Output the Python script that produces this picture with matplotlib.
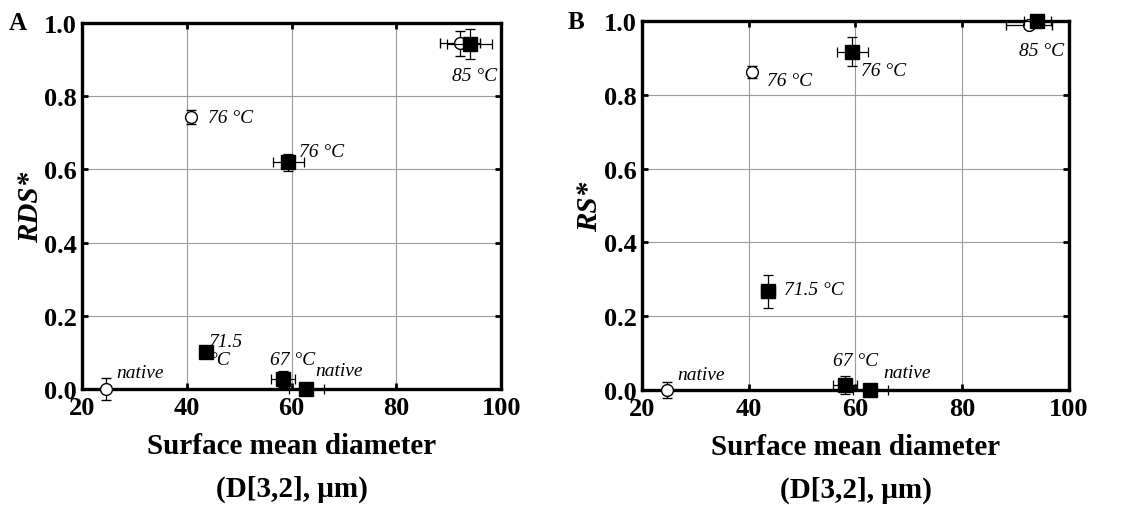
import matplotlib
matplotlib.use("Agg")
import matplotlib.pyplot as plt

plt.rcParams['font.family'] = ['Liberation Serif', 'DejaVu Serif']

# ---------------- data ----------------
# Panel A (RDS*)
a_open_x = [24.5, 40.8, 92.2]
a_open_y = [0.0, 0.743, 0.945]
a_open_xerr = [0.0, 0.0, 3.8]
a_open_yerr = [0.03, 0.018, 0.034]

a_fill_x = [62.8, 58.3, 43.7, 59.4, 94.0]
a_fill_y = [0.0, 0.027, 0.102, 0.62, 0.943]
a_fill_xerr = [3.3, 2.3, 1.2, 2.9, 4.3]
a_fill_yerr = [0.0, 0.022, 0.01, 0.023, 0.04]

# Panel B (RS*)
b_open_x = [24.7, 40.6, 92.5]
b_open_y = [0.0, 0.862, 0.989]
b_open_xerr = [0.0, 0.0, 4.3]
b_open_yerr = [0.022, 0.017, 0.0]

b_fill_x = [62.8, 58.0, 43.6, 59.4, 94.1]
b_fill_y = [0.0, 0.014, 0.268, 0.917, 1.0]
b_fill_xerr = [3.3, 2.2, 1.3, 2.9, 2.5]
b_fill_yerr = [0.0, 0.024, 0.045, 0.04, 0.0]

# annotations: (text, x, y)
a_notes = [("native", 26.6, 0.045), ("76 °C", 44.0, 0.743), ("76 °C", 61.5, 0.65),
           ("85 °C", 90.7, 0.856), ("71.5\n°C", 44.3, 0.105), ("67 °C", 55.9, 0.08),
           ("native", 64.6, 0.05)]
b_notes = [("native", 26.6, 0.043), ("76 °C", 43.4, 0.84), ("76 °C", 61.1, 0.867),
           ("85 °C", 90.7, 0.921), ("71.5 °C", 46.6, 0.272), ("67 °C", 55.7, 0.08),
           ("native", 65.3, 0.048)]

x_ticks = [20, 40, 60, 80, 100]
y_ticks = [0.0, 0.2, 0.4, 0.6, 0.8, 1.0]
x_label = "Surface mean diameter\n(D[3,2], μm)"

fig = plt.figure(figsize=(11.36, 5.06), dpi=100)
axA = fig.add_axes([0.0722, 0.229, 0.369, 0.7236])
axB = fig.add_axes([0.5651, 0.227, 0.3759, 0.7295])


def draw(ax, ox, oy, oxe, oye, fx, fy, fxe, fye, notes, ylab, letter):
    ax.set_xlim(20, 100)
    ax.set_ylim(0, 1.0)
    ax.set_xticks(x_ticks)
    ax.set_yticks(y_ticks)
    ax.set_xticklabels([str(t) for t in x_ticks])
    ax.set_yticklabels([f"{t:.1f}" for t in y_ticks])
    ax.grid(True, color='#9a9a9a', linewidth=0.8)
    ax.set_axisbelow(True)
    for s in ax.spines.values():
        s.set_linewidth(2.4)
        s.set_zorder(3)
    ax.tick_params(direction='in', length=4, width=2, top=True, right=True,
                   labelsize=19, pad=4)
    for lab in ax.get_xticklabels() + ax.get_yticklabels():
        lab.set_fontweight('bold')
    ax.tick_params(axis='x', pad=5)
    ax.errorbar(ox, oy, xerr=oxe, yerr=oye, fmt='o', ms=8.5, mfc='white', mec='black',
                mew=1.0, ecolor='black', elinewidth=0.9, capsize=3.5, capthick=0.9,
                clip_on=False, zorder=5)
    ax.errorbar(fx, fy, xerr=fxe, yerr=fye, fmt='s', ms=9.5, mfc='black', mec='black',
                ecolor='black', elinewidth=0.9, capsize=3.5, capthick=0.9,
                clip_on=False, zorder=6)
    for txt, x, y in notes:
        ax.text(x, y, txt, fontsize=14, style='italic', ha='left', va='center',
                linespacing=1.05, zorder=7)
    ax.set_xlabel(x_label, fontsize=21, fontweight='bold', linespacing=1.75, labelpad=9)
    ax.set_ylabel(ylab, fontsize=21, fontweight='bold', style='italic', labelpad=0)
    ax.text(-0.175, 1.0, letter, transform=ax.transAxes, fontsize=18,
            fontweight='bold', ha='left', va='center')


draw(axA, a_open_x, a_open_y, a_open_xerr, a_open_yerr,
     a_fill_x, a_fill_y, a_fill_xerr, a_fill_yerr, a_notes, "RDS*", "A")
draw(axB, b_open_x, b_open_y, b_open_xerr, b_open_yerr,
     b_fill_x, b_fill_y, b_fill_xerr, b_fill_yerr, b_notes, "RS*", "B")

fig.savefig("out.png", dpi=100)
